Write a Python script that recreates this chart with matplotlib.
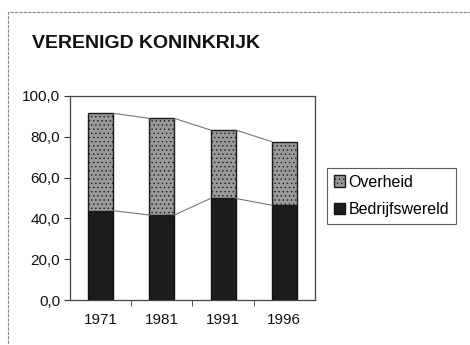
import numpy as np
import matplotlib.pyplot as plt
from matplotlib.patches import Rectangle
from matplotlib.ticker import FuncFormatter

# Data
years = ['1971', '1981', '1991', '1996']
bedrijfswereld = [43.8, 41.7, 49.8, 46.5]
overheid = [47.7, 47.3, 33.5, 31.1]

plt.rcParams['hatch.linewidth'] = 0.5

fig = plt.figure(figsize=(4.7, 3.45), dpi=100)
fig.patch.set_facecolor('white')

# outer frame of the chart area
fig.add_artist(Rectangle((0.018, -0.02), 1.0, 0.985, transform=fig.transFigure,
                         fill=False, edgecolor='#888888', linewidth=0.8,
                         linestyle=(0, (3, 1))))

fig.text(0.068, 0.862, 'VERENIGD KONINKRIJK', fontsize=14, fontweight='bold',
         family='Liberation Sans', color='#111111')

ax = fig.add_axes([0.149, 0.130, 0.521, 0.592])
x = np.arange(len(years))
width = 0.41

bars_b = ax.bar(x, bedrijfswereld, width, color='#1c1c1c', edgecolor='#111111',
                linewidth=1.0, label='Bedrijfswereld')
bars_o = ax.bar(x, overheid, width, bottom=bedrijfswereld, color='#9a9a9a',
                edgecolor='#1a1a1a', linewidth=1.0, hatch='....',
                label='Overheid')

# series lines joining the segment tops
totals = np.array(bedrijfswereld) + np.array(overheid)
for i in range(len(years) - 1):
    ax.plot([x[i] + width / 2, x[i + 1] - width / 2],
            [bedrijfswereld[i], bedrijfswereld[i + 1]], color='#777777', lw=0.8)
    ax.plot([x[i] + width / 2, x[i + 1] - width / 2],
            [totals[i], totals[i + 1]], color='#777777', lw=0.8)

ax.set_xlim(-0.5, len(years) - 0.5)
ax.set_ylim(0, 100)
ax.set_yticks(np.arange(0, 101, 20))
ax.yaxis.set_major_formatter(FuncFormatter(lambda v, _: f'{v:.1f}'.replace('.', ',')))
ax.set_xticks(x)
ax.set_xticklabels(years)
ax.set_xticks(x[:-1] + 0.5, minor=True)
ax.tick_params(axis='x', which='major', length=0, pad=9, labelsize=11)
ax.tick_params(axis='x', which='minor', length=4, direction='out', color='#333333')
ax.tick_params(axis='y', length=4, direction='out', labelsize=11, color='#333333',
               pad=3)
for lab in ax.get_xticklabels() + ax.get_yticklabels():
    lab.set_family('Liberation Sans')
    lab.set_color('#111111')
for s in ax.spines.values():
    s.set_color('#444444')
    s.set_linewidth(0.9)

leg = ax.legend(handles=[bars_o, bars_b], labels=['Overheid', 'Bedrijfswereld'],
                loc='center left', bbox_to_anchor=(1.05, 0.51), frameon=True,
                fancybox=False, edgecolor='#333333',
                prop={'family': 'Liberation Sans', 'size': 11.5},
                handlelength=0.7, handleheight=0.7, handletextpad=0.25,
                borderpad=0.4, labelspacing=0.8, borderaxespad=0)
leg.get_frame().set_linewidth(0.8)

fig.savefig('out.png', dpi=100, facecolor='white')
